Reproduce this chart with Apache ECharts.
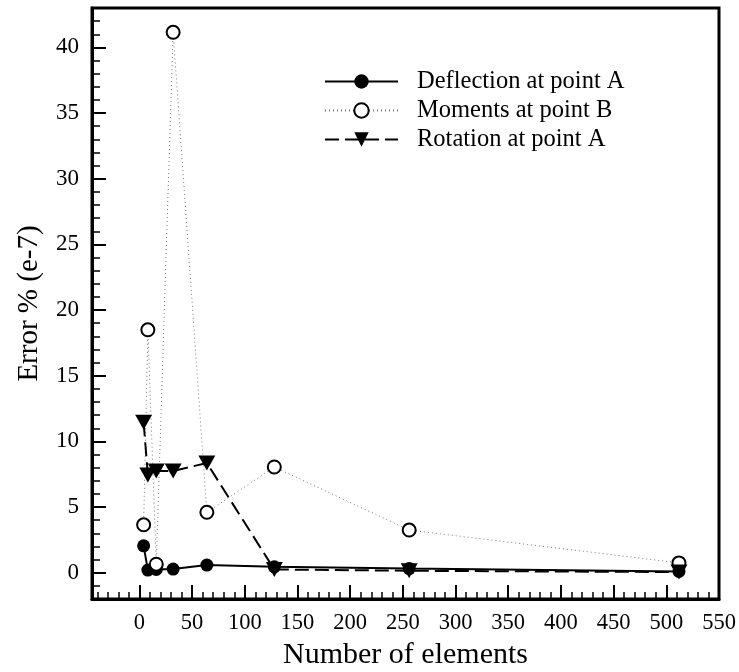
<!DOCTYPE html>
<html>
<head>
<meta charset="utf-8">
<script src="https://cdn.jsdelivr.net/npm/echarts@6/dist/echarts.min.js"></script>
<style>
  html, body { margin: 0; padding: 0; background: #fff; }
  #mChart { width: 739px; height: 672px; }
</style>
</head>
<body>
<div id="mChart"></div>
<script>
// number of elements
var elements = [4, 8, 16, 32, 64, 128, 256, 512];
// error % (e-7)
var deflection = [2.05, 0.2, 0.25, 0.28, 0.58, 0.45, 0.32, 0.1];
var moments = [3.65, 18.5, 0.65, 41.15, 4.6, 8.05, 3.25, 0.75];
var rotation = [11.45, 7.45, 7.75, 7.75, 8.35, 0.25, 0.15, 0.05];
// tick labels
var xTicks = [0, 50, 100, 150, 200, 250, 300, 350, 400, 450, 500, 550];
var yTicks = [0, 5, 10, 15, 20, 25, 30, 35, 40];

var font = 'Liberation Serif';

function pairs(ys) {
  return elements.map(function (x, i) { return [x, ys[i]]; });
}
// minor ticks between the labelled ones
function minor(lo, hi, step, majors) {
  var out = [];
  for (var v = lo; v <= hi; v += step) {
    if (majors.indexOf(v) < 0) out.push(v);
  }
  return out;
}

var myChart = echarts.init(document.getElementById('mChart'));
var xMin = -45, xMax = 550, yMin = -2, yMax = 43;

myChart.setOption({
  animation: false,
  grid: {
    left: 92, right: 20, top: 8, bottom: 73,
    outerBoundsMode: 'none',
    show: true, borderColor: '#000', borderWidth: 3
  },
  legend: {
    orient: 'vertical',
    left: 319, top: 64,
    itemWidth: 73, itemHeight: 18, itemGap: 4,
    textStyle: { fontFamily: font, fontSize: 24.5, color: '#000', padding: [0, 0, 0, 14] },
    data: ['Deflection at point A', 'Moments at point B', 'Rotation at point A']
  },
  xAxis: [
    {
      type: 'value', min: xMin, max: xMax, position: 'bottom',
      name: 'Number of elements', nameLocation: 'middle', nameGap: 38,
      nameTextStyle: { fontFamily: font, fontSize: 30, color: '#000' },
      axisLine: { onZero: false, lineStyle: { color: '#000', width: 3 } },
      axisTick: { inside: true, length: 14, customValues: xTicks, lineStyle: { color: '#000', width: 2 } },
      axisLabel: { customValues: xTicks, margin: 13, fontFamily: font, fontSize: 22.5, color: '#000' },
      splitLine: { show: false }
    },
    {
      type: 'value', min: xMin, max: xMax, position: 'bottom',
      axisLine: { show: false, onZero: false },
      axisTick: { inside: true, length: 7, customValues: minor(-40, 540, 10, xTicks), lineStyle: { color: '#000', width: 1.5 } },
      axisLabel: { show: false },
      splitLine: { show: false }
    }
  ],
  yAxis: [
    {
      type: 'value', min: yMin, max: yMax, position: 'left',
      name: 'Error % (e-7)', nameLocation: 'middle', nameGap: 48,
      nameTextStyle: { fontFamily: font, fontSize: 29, color: '#000' },
      axisLine: { onZero: false, lineStyle: { color: '#000', width: 3 } },
      axisTick: { inside: true, length: 14, customValues: yTicks, lineStyle: { color: '#000', width: 2 } },
      axisLabel: { customValues: yTicks, margin: 13, fontFamily: font, fontSize: 23, color: '#000' },
      splitLine: { show: false }
    },
    {
      type: 'value', min: yMin, max: yMax, position: 'left',
      axisLine: { show: false, onZero: false },
      axisTick: { inside: true, length: 8, customValues: minor(-2, 43, 1, yTicks), lineStyle: { color: '#000', width: 1.5 } },
      axisLabel: { show: false },
      splitLine: { show: false }
    }
  ],
  series: [
    {
      name: 'Deflection at point A', type: 'line',
      data: pairs(deflection),
      symbol: 'circle', symbolSize: 13,
      lineStyle: { color: '#000', width: 2 },
      itemStyle: { color: '#000' }
    },
    {
      name: 'Moments at point B', type: 'line',
      data: pairs(moments),
      symbol: 'circle', symbolSize: 13,
      lineStyle: { color: '#777', width: 1, type: [1, 3] },
      itemStyle: { color: '#fff', borderColor: '#000', borderWidth: 2 }
    },
    {
      name: 'Rotation at point A', type: 'line',
      data: pairs(rotation),
      symbol: 'triangle', symbolSize: [17, 15], symbolRotate: 180,
      lineStyle: { color: '#000', width: 2, type: [14, 6] },
      itemStyle: { color: '#000' }
    }
  ]
});
</script>
</body>
</html>
